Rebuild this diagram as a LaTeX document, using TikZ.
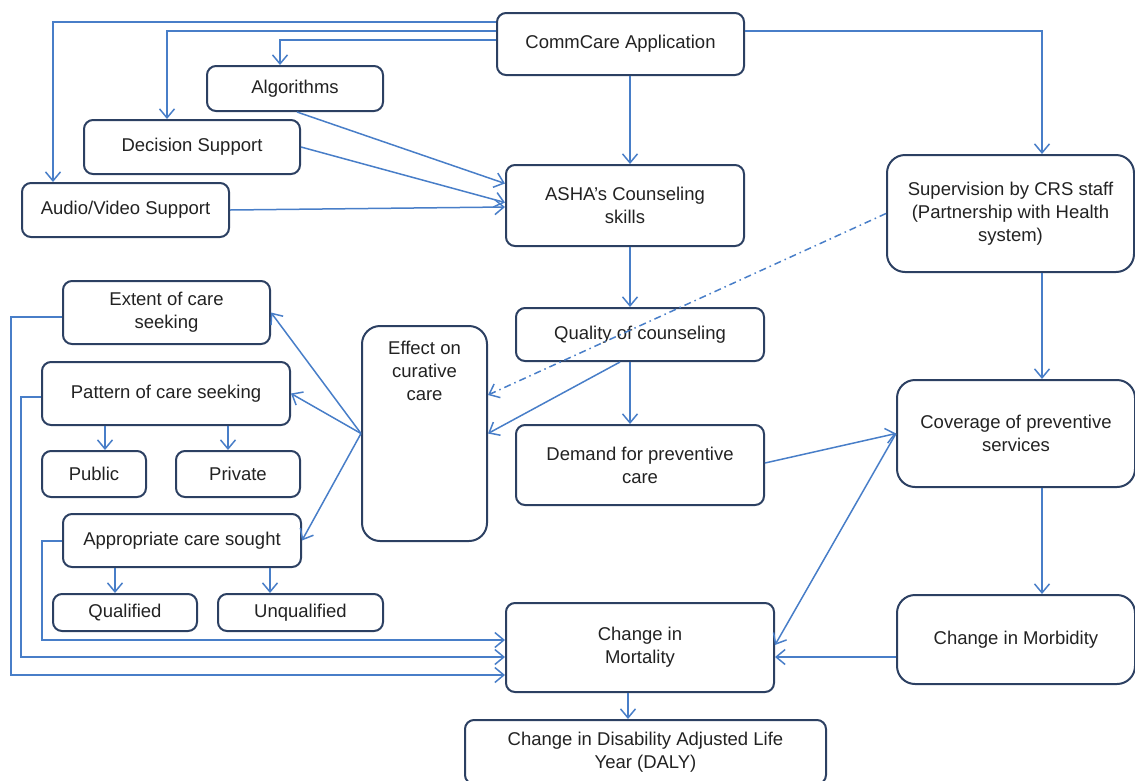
\documentclass[tikz,border=0pt]{standalone}
\usepackage{fontspec}
\setmainfont{Liberation Sans}
\usetikzlibrary{arrows.meta}
\definecolor{boxc}{RGB}{44,64,98}
\definecolor{linec}{RGB}{72,126,200}
\definecolor{txtc}{RGB}{34,34,34}
\begin{document}
\begin{tikzpicture}[x = 1pt, y = -1pt,
        box/.style = {draw = boxc, line width = 2pt, rounded corners = 9pt, inner sep = 0pt,
            align = center, text = txtc, font = \fontsize{18.5}{23}\selectfont},
        bigbox/.style = {box, rounded corners = 18pt},
        arr/.style = {draw = linec, line width = 1.5pt, -{Straight Barb[length = 9pt, width = 15pt]}},
        dasharr/.style = {arr, dash pattern = on 7pt off 4pt on 1.5pt off 4pt}]
        \clip (0, 0) rectangle (1135, 780);
        % top row
        \node[box, minimum width = 247, minimum height = 62] (app) at (620.5, 44) {CommCare Application};
        \node[box, minimum width = 176, minimum height = 45] (alg) at (295, 88.5) {Algorithms};
        \node[box, minimum width = 216, minimum height = 54] (dec) at (192, 147) {Decision Support};
        \node[box, minimum width = 207, minimum height = 54] (av) at (125.5, 210) {Audio/Video Support};
        \node[box, minimum width = 238, minimum height = 81] (asha) at (625, 205.5) {ASHA's Counseling\\skills};
        \node[bigbox, minimum width = 247, minimum height = 117] (sup) at (1010.5, 213.5) {Supervision by CRS staff\\(Partnership with Health\\system)};
        % middle
        \node[box, minimum width = 248, minimum height = 53] (qual) at (640, 334.5) {Quality of counseling};
        \node[box, minimum width = 248, minimum height = 80] (dem) at (640, 465) {Demand for preventive\\care};
        \node[bigbox, minimum width = 238, minimum height = 107] (cov) at (1016, 433.5) {Coverage of preventive\\services};
        \node[bigbox, minimum width = 125, minimum height = 215] (eff) at (424.5, 433.5) {};
        \node[align = center, text = txtc, font = \fontsize{18.5}{23}\selectfont, anchor = north] (efft) at ([yshift = -13]eff.north) {Effect on\\curative\\care};
        % care seeking
        \node[box, minimum width = 207, minimum height = 63] (ext) at (166.5, 312.5) {Extent of care\\seeking};
        \node[box, minimum width = 248, minimum height = 63] (pat) at (166, 393.5) {Pattern of care seeking};
        \node[box, minimum width = 104, minimum height = 46] (pub) at (94, 474) {Public};
        \node[box, minimum width = 124, minimum height = 46] (priv) at (238, 474) {Private};
        \node[box, minimum width = 238, minimum height = 53] (appr) at (182, 540.5) {Appropriate care sought};
        \node[box, minimum width = 144, minimum height = 37] (qlf) at (125, 612.5) {Qualified};
        \node[box, minimum width = 165, minimum height = 37] (unq) at (300.5, 612.5) {Unqualified};
        % outcomes
        \node[box, minimum width = 268, minimum height = 89] (mort) at (640, 647.5) {Change in\\Mortality};
        \node[bigbox, minimum width = 238, minimum height = 89] (morb) at (1016, 639.5) {Change in Morbidity};
        \node[box, minimum width = 361, minimum height = 64] (daly) at (645.5, 752) {Change in Disability Adjusted Life\\Year (DALY)};

        % connectors
        \draw[arr] ([yshift = 22]app.west) -| ([xshift = -72.5]av.north);
        \draw[arr] ([yshift = 13]app.west) -| ([xshift = -25]dec.north);
        \draw[arr] ([yshift = 4]app.west) -| ([xshift = -15]alg.north);
        \draw[arr] ([yshift = 13]app.east) -| ([xshift = 31.5]sup.north);
        \draw[arr] ([xshift = 9.5]app.south) -- ([xshift = 5]asha.north);
        \draw[arr] ([xshift = 2]alg.south) -- ([yshift = 22]asha.west);
        \draw[arr] (dec.east) -- ([yshift = 3]asha.west);
        \draw[arr] (av.east) -- ([yshift = -1.5]asha.west);
        \draw[arr] ([xshift = 5]asha.south) -- ([xshift = -10]qual.north);
        \draw[arr] ([xshift = -10]qual.south) -- ([xshift = -10]dem.north);
        \draw[arr] ([xshift = -20]qual.south) -- (eff.east);
        \draw[dasharr] (sup.west) -- ([yshift = 38.5]eff.east);
        \foreach \t in {ext, pat, appr}{
            \draw[arr] (eff.west) -- (\t.east);
        }
        \draw[arr] ([xshift = -61]pat.south) -- ([xshift = 11]pub.north);
        \draw[arr] ([xshift = 62]pat.south) -- ([xshift = -10]priv.north);
        \draw[arr] ([xshift = -67]appr.south) -- ([xshift = -10]qlf.north);
        \draw[arr] ([xshift = 88]appr.south) -- ([xshift = -30.5]unq.north);
        \draw[arr] ([yshift = -4.5]ext.west) -- ++(-51, 0) |- ([yshift = -27.5]mort.west);
        \draw[arr] ([yshift = -3.5]pat.west) -- ++(-20, 0) |- ([yshift = -9.5]mort.west);
        \draw[arr] ([yshift = -0.5]appr.west) -- ++(-20, 0) |- ([yshift = 7.5]mort.west);
        \draw[arr] ([yshift = 2]dem.east) -- (cov.west);
        \draw[arr, {Straight Barb[length = 9pt, width = 15pt]}-] ([yshift = 2.5]mort.east) -- (cov.west);
        \draw[arr] ([xshift = 31.5]sup.south) -- ([xshift = 26]cov.north);
        \draw[arr] ([xshift = 26]cov.south) -- ([xshift = 26]morb.north);
        \draw[arr] ([yshift = -17.5]morb.west) -- ([yshift = -9.5]mort.east);
        \draw[arr] ([xshift = -12]mort.south) -- ([xshift = -17.5]daly.north);
\end{tikzpicture}
\end{document}
